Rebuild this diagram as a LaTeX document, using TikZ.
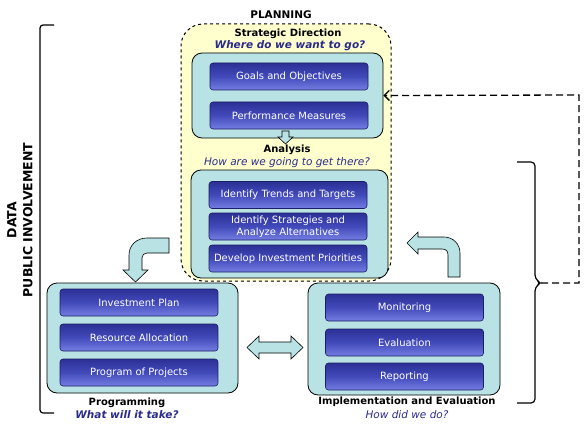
\documentclass[tikz,border=0pt]{standalone}
\usepackage{fontspec}
\setmainfont{DejaVu Sans}
\usetikzlibrary{arrows.meta}

\begin{document}
\begin{tikzpicture}[x=1pt,y=-1pt,
  panel/.style={draw=black,line width=0.8pt,rounded corners=10pt,fill=cpanel,inner sep=0pt},
  btn/.style={draw=cbtnedge,line width=0.6pt,rounded corners=3pt,top color=cbtntop,bottom color=cbtnbot,middle color=cbtnmid,text=white,minimum width=158pt,minimum height=27pt,inner sep=0pt,align=center,font=\fontsize{10}{11.5}\selectfont},
  head/.style={font=\bfseries\fontsize{10}{11}\selectfont},
  ask/.style={text=cask,font=\itshape\fontsize{10.5}{12}\selectfont},
  askb/.style={text=cask,font=\bfseries\itshape\fontsize{10.5}{12}\selectfont},
  blockarrow/.style={draw=black,line width=0.6pt,fill=cpanel}]
  \definecolor{cplan}{RGB}{255,255,206}
  \definecolor{cpanel}{RGB}{184,226,228}
  \definecolor{cbtntop}{RGB}{44,48,150}
  \definecolor{cbtnmid}{RGB}{66,74,186}
  \definecolor{cbtnbot}{RGB}{116,126,226}
  \definecolor{cbtnedge}{RGB}{28,30,100}
  \definecolor{cask}{RGB}{42,42,140}
  \useasboundingbox (0,0) rectangle (588,425);
  % planning area
  \node[draw,dashed,line width=1pt,rounded corners=22pt,fill=cplan,minimum width=210pt,minimum height=257pt] (plan) at (286,152.5) {};
  \node[panel,minimum width=191pt,minimum height=85pt] (stratbox) at (287.5,95.5) {};
  \node[panel,minimum width=197pt,minimum height=108pt] (anabox) at (289.5,224) {};
  \node[panel,minimum width=191pt,minimum height=110pt] (progbox) at (142.5,338) {};
  \node[panel,minimum width=192pt,minimum height=112pt] (implbox) at (404,339) {};
  % buttons
  \foreach \nm/\xx/\yy/\txt in {goals/289/76.5/Goals and Objectives,
      perf/289/115.5/Performance Measures,
      trends/288/195/Identify Trends and Targets,
      strat/288/226.5/{Identify Strategies and\\Analyze Alternatives},
      develop/288/258.5/Develop Investment Priorities,
      invest/139/302.5/Investment Plan,
      resource/139/337.5/Resource Allocation,
      projects/139/372.5/Program of Projects,
      monitor/404.5/307.5/Monitoring,
      evalu/404.5/342.5/Evaluation,
      report/404.5/376.5/Reporting}{%
    \node[btn] (\nm) at (\xx,\yy) {\txt};
  }
  % titles
  \node[font=\bfseries\fontsize{10.5}{12}\selectfont] (plantitle) at (281,14.5) {PLANNING};
  \node[head] (strattitle) at (288,33.5) {Strategic Direction};
  \node[askb] (stratask) at (290,46) {Where do we want to go?};
  \node[head] (anatitle) at (287,149.5) {Analysis};
  \node[ask] (anaask) at (287,163) {How are we going to get there?};
  \node[head] (progtitle) at (127,403) {Programming};
  \node[askb] (progask) at (127,415) {What will it take?};
  \node[head] (impltitle) at (407,402) {Implementation and Evaluation};
  \node[ask] (implask) at (407,415) {How did we do?};
  \node[rotate=90,align=center,font=\bfseries\fontsize{12.5}{16}\selectfont] (side) at (20,220) {DATA\\PUBLIC INVOLVEMENT};
  % block arrows
  \draw[blockarrow] (282,131) -- (289,131) -- (289,137) -- (293,137) -- (285.5,144) -- (278,137) -- (282,137) -- cycle;
  \draw[blockarrow] (247,347.5) -- (259,336) -- (259,342) -- (291,342) -- (291,336) -- (303,347.5) -- (291,359) -- (291,353) -- (259,353) -- (259,359) -- cycle;
  \draw[blockarrow] (169,238) -- (147,238) .. controls (137,238) and (129,245) .. (129,255)
    -- (129,270) -- (123,270) -- (135.5,282) -- (148,270) -- (142,270) -- (142,258)
    .. controls (142,255) and (144,253) .. (147,253) -- (169,253) -- cycle;
  \draw[blockarrow] (448,277) -- (448,255) .. controls (448,251) and (446,249) .. (442,249)
    -- (418,249) -- (418,254) -- (407,243) -- (418,232) -- (418,237) -- (444,237)
    .. controls (453,237) and (460,244) .. (460,253) -- (460,277) -- cycle;
  % brackets and feedback
  \draw[line width=1.2pt,rounded corners=3pt] (54,25) -- (40,25) -- (40,413) -- (54,413);
  \coordinate (bracetip) at (541,283);
  \coordinate (fbcorner) at (579,95);
  \draw[line width=1.2pt,rounded corners=4pt] (517,162) -- (535,162) -- (535,279) -- (bracetip) -- (535,287) -- (535,403) -- (517,403);
  \draw[line width=1.3pt,dash pattern=on 7pt off 4pt,-{Straight Barb[length=5pt,width=10pt]}] (bracetip) -| (fbcorner) -- (stratbox.east);
\end{tikzpicture}
\end{document}
